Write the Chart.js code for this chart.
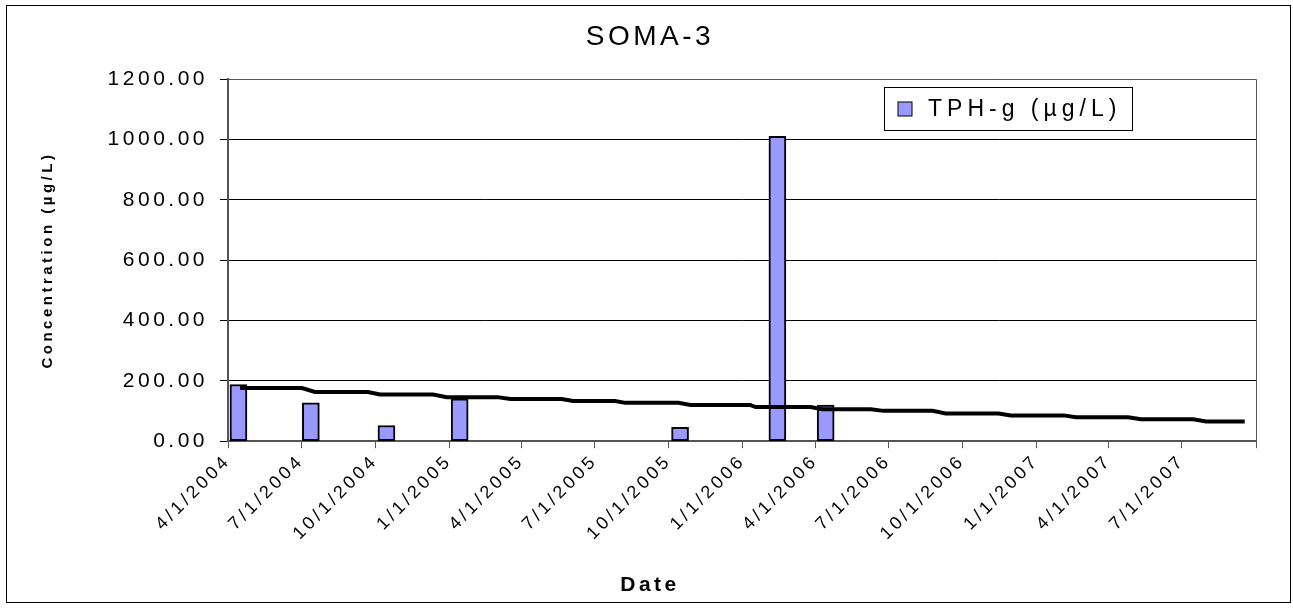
<!DOCTYPE html>
<html>
<head>
<meta charset="utf-8">
<script src="https://cdn.jsdelivr.net/npm/chart.js@4.4.1/dist/chart.umd.min.js"></script>
<style>
  body { margin: 0; background: #fff; }
  #grafica { display: block; }
</style>
</head>
<body>
<canvas id="grafica" width="1293" height="608"></canvas>
<script>
const fechasMuestra = ['2004-04-14', '2004-07-13', '2004-10-15', '2005-01-14', '2005-10-15', '2006-02-13', '2006-04-14'];
const valoresTPH = [188, 127, 52, 140, 46, 1010, 120];

// linea negra (tendencia escalonada)
const fechasLinea = [
  '2004-04-16', '2004-07-02', '2004-07-18', '2004-09-22', '2004-10-07', '2004-12-12',
  '2004-12-29', '2005-03-02', '2005-03-18', '2005-05-21', '2005-06-04', '2005-07-26',
  '2005-08-08', '2005-10-13', '2005-10-28', '2006-01-10', '2006-01-17', '2006-03-26',
  '2006-04-10', '2006-06-09', '2006-06-25', '2006-08-25', '2006-09-10', '2006-11-15',
  '2006-11-30', '2007-02-04', '2007-02-19', '2007-04-25', '2007-05-11', '2007-07-15',
  '2007-07-31', '2007-09-17'
];
const valoresLinea = [
  176, 176, 163, 163, 155, 155,
  146, 146, 139.5, 139.5, 133, 133,
  127, 127, 120, 120, 113, 113,
  106, 106, 100.5, 100.5, 92, 92,
  85.5, 85.5, 79.5, 79.5, 73, 73,
  65.5, 65.5
];

// marcas del eje x (trimestres)
const fechasEje = [
  '2004-04-01', '2004-07-01', '2004-10-01', '2005-01-01', '2005-04-01', '2005-07-01',
  '2005-10-01', '2006-01-01', '2006-04-01', '2006-07-01', '2006-10-01', '2007-01-01',
  '2007-04-01', '2007-07-01', '2007-10-01'
];
const ticksY = [0, 200, 400, 600, 800, 1000, 1200];

const titulo = 'SOMA-3';
const nombreSerie = 'TPH-g (µg/L)';

function aDia(s) {
  let p = s.split('-').map(Number);
  return Date.UTC(p[0], p[1] - 1, p[2]) / 86400000;
}
function formatoFecha(v) {
  let d = new Date(v * 86400000);
  return (d.getUTCMonth() + 1) + '/' + d.getUTCDate() + '/' + d.getUTCFullYear();
}

const diasEje = fechasEje.map(aDia);
const ultimoDia = diasEje[diasEje.length - 1];

const fuente = "'Liberation Sans', Arial, sans-serif";
const espaciado = '3.5px';

const pluginEspaciado = {
  id: 'espaciado',
  beforeUpdate(chart) { chart.ctx.letterSpacing = espaciado; },
  beforeDraw(chart) {
    let ctx = chart.ctx;
    ctx.letterSpacing = espaciado;
    ctx.save();
    ctx.fillStyle = '#ffffff';
    ctx.fillRect(0, 0, chart.width, chart.height);
    ctx.strokeStyle = '#000000';
    ctx.lineWidth = 1;
    ctx.strokeRect(6.5, 5.5, chart.width - 9, chart.height - 11);
    ctx.restore();
  }
};

const pluginMarco = {
  id: 'marco',
  beforeDatasetsDraw(chart) {
    let ctx = chart.ctx;
    let a = chart.chartArea;
    ctx.save();
    ctx.strokeStyle = '#555555';
    ctx.lineWidth = 1;
    ctx.beginPath();
    ctx.moveTo(Math.round(a.left), Math.round(a.top) + 0.5);
    ctx.lineTo(Math.round(a.right) + 0.5, Math.round(a.top) + 0.5);
    ctx.lineTo(Math.round(a.right) + 0.5, Math.round(a.bottom));
    ctx.stroke();
    ctx.restore();
  },
  afterDraw(chart) {
    // leyenda con recuadro dentro del area
    let ctx = chart.ctx;
    let a = chart.chartArea;
    let serie = chart.data.datasets[1];
    let bx = Math.round(a.right) - 372 + 0.5;
    let by = Math.round(a.top) + 8 + 0.5;
    ctx.save();
    ctx.strokeStyle = '#000000';
    ctx.lineWidth = 1;
    ctx.strokeRect(bx, by, 248, 43);
    ctx.fillStyle = serie.backgroundColor;
    ctx.fillRect(bx + 13.5, by + 14.5, 14, 14);
    ctx.strokeRect(bx + 13.5, by + 14.5, 14, 14);
    ctx.fillStyle = '#000000';
    ctx.font = '23px ' + fuente;
    ctx.letterSpacing = '5px';
    ctx.textBaseline = 'middle';
    ctx.textAlign = 'left';
    ctx.fillText(serie.label, bx + 43.5, by + 22);
    ctx.restore();
  }
};

const grafica = document.getElementById('grafica').getContext('2d');

new Chart(grafica, {
  data: {
    datasets: [
      {
        type: 'line',
        label: 'tendencia',
        data: fechasLinea.map((f, i) => ({ x: aDia(f), y: valoresLinea[i] })),
        borderColor: '#000000',
        borderWidth: 4,
        pointRadius: 0,
        tension: 0,
        fill: false,
        order: 0
      },
      {
        type: 'bar',
        label: nombreSerie,
        data: fechasMuestra.map((f, i) => ({ x: aDia(f), y: valoresTPH[i] })),
        backgroundColor: '#9999FF',
        borderColor: '#000000',
        borderWidth: 2,
        borderSkipped: false,
        barThickness: 17,
        order: 1
      }
    ]
  },
  options: {
    responsive: false,
    animation: false,
    devicePixelRatio: 1,
    layout: { padding: { left: 44, right: 37, top: 0, bottom: 0 } },
    plugins: {
      legend: { display: false },
      tooltip: { enabled: false },
      title: {
        display: true,
        text: titulo,
        color: '#000000',
        font: { size: 28, family: fuente, weight: 'normal' },
        padding: { top: 20, bottom: 25.4 }
      },
      subtitle: {
        display: true,
        position: 'bottom',
        text: 'Date',
        color: '#000000',
        font: { size: 21, family: fuente, weight: 'bold' },
        padding: { top: 0, bottom: 10 }
      }
    },
    scales: {
      x: {
        type: 'linear',
        offset: false,
        min: diasEje[0],
        max: ultimoDia,
        afterBuildTicks(scale) {
          scale.ticks = diasEje.map(v => ({ value: v }));
        },
        afterFit(scale) { scale.height = 131.6; },
        ticks: {
          autoSkip: false,
          minRotation: 45,
          maxRotation: 45,
          color: '#000000',
          padding: 2,
          font: { size: 18, family: fuente },
          callback: (v) => v === ultimoDia ? '' : formatoFecha(v)
        },
        grid: { offset: false, drawOnChartArea: false, drawTicks: true, tickLength: 7, color: '#555555' },
        border: { color: '#555555', width: 2 }
      },
      y: {
        min: 0,
        max: 1200,
        afterBuildTicks(scale) {
          scale.ticks = ticksY.map(v => ({ value: v }));
        },
        afterFit(scale) { scale.width = 184; },
        ticks: {
          color: '#000000',
          padding: 12,
          font: { size: 21, family: fuente },
          callback: (v) => Number(v).toFixed(2)
        },
        grid: { color: '#000000', lineWidth: 1, tickLength: 8 },
        border: { color: '#555555', width: 2 },
        title: {
          display: true,
          text: 'Concentration (µg/L)',
          color: '#000000',
          font: { size: 15, family: fuente, weight: 'bold' },
          padding: { top: -5, bottom: 0 }
        }
      }
    }
  },
  plugins: [pluginEspaciado, pluginMarco]
});
</script>
</body>
</html>
